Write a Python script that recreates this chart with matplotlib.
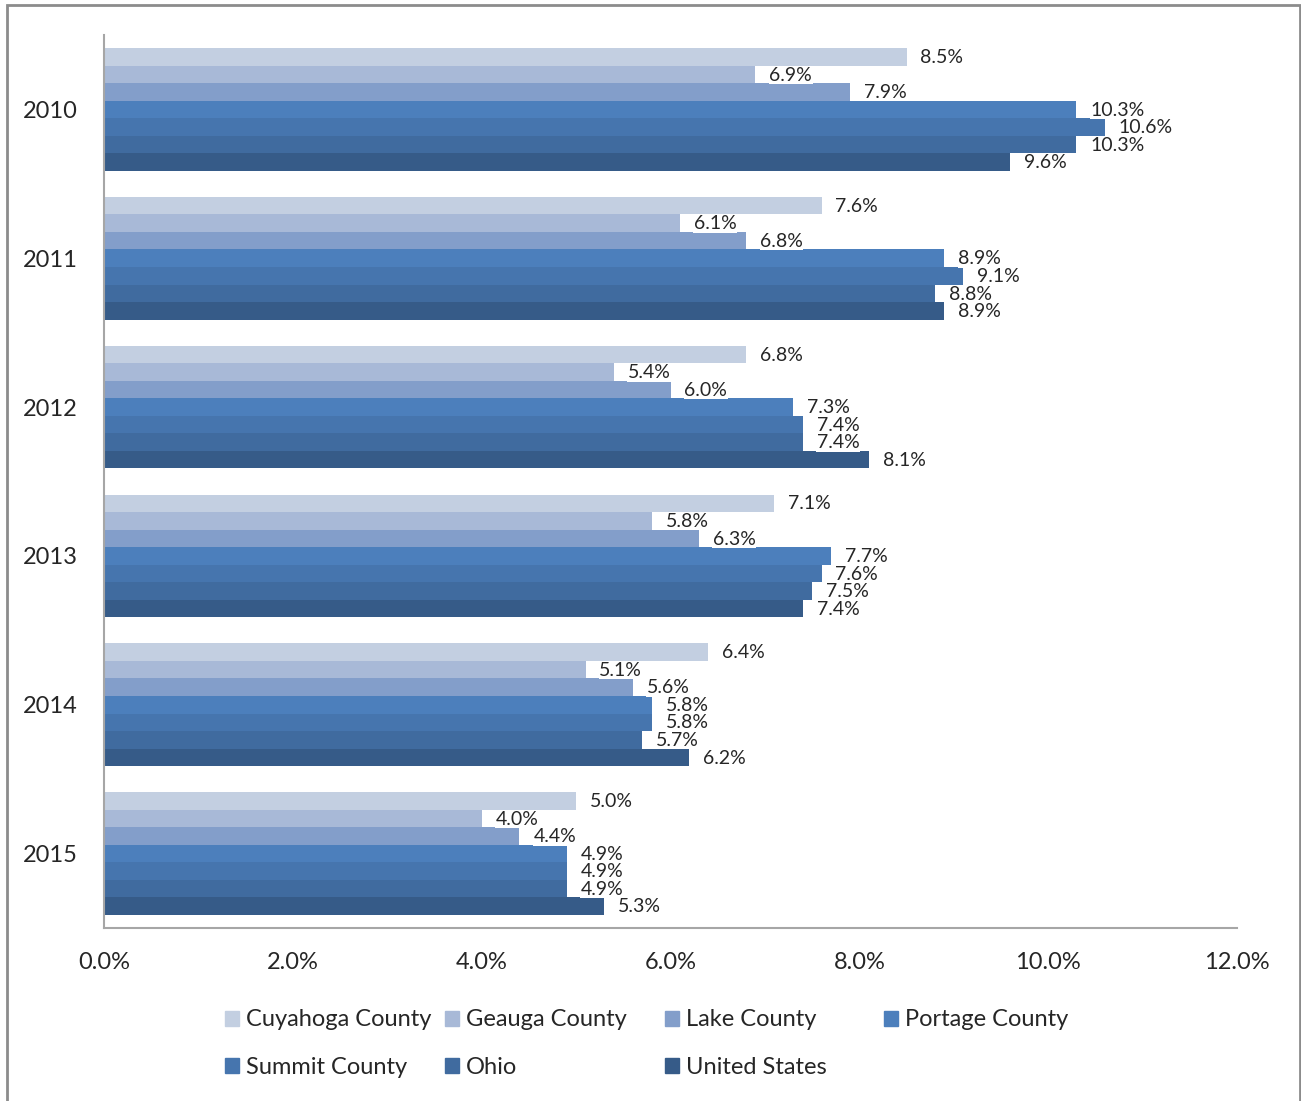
import matplotlib
matplotlib.use("Agg")
import matplotlib.pyplot as plt
import numpy as np
from matplotlib.patches import Patch, Rectangle

plt.rcParams['font.family'] = ['Lato', 'DejaVu Sans']

years = ["2010", "2011", "2012", "2013", "2014", "2015"]
series = ["Cuyahoga County", "Geauga County", "Lake County", "Portage County",
          "Summit County", "Ohio", "United States"]
cuyahoga = [8.5, 7.6, 6.8, 7.1, 6.4, 5.0]
geauga = [6.9, 6.1, 5.4, 5.8, 5.1, 4.0]
lake = [7.9, 6.8, 6.0, 6.3, 5.6, 4.4]
portage = [10.3, 8.9, 7.3, 7.7, 5.8, 4.9]
summit = [10.6, 9.1, 7.4, 7.6, 5.8, 4.9]
ohio = [10.3, 8.8, 7.4, 7.5, 5.7, 4.9]
us = [9.6, 8.9, 8.1, 7.4, 6.2, 5.3]
values = [cuyahoga, geauga, lake, portage, summit, ohio, us]
colors = ["#C3CFE1", "#A8B9D7", "#839ECA", "#4C7FBC", "#4675AE", "#406B9F", "#365B88"]

W, H = 1301, 1101
fig = plt.figure(figsize=(W / 100, H / 100), dpi=100)
ax = fig.add_axes([104 / W, 1 - 928 / H, (1237 - 104) / W, (928 - 35) / H])

# outer chart frame (bottom edge runs off the image)
fig.add_artist(Rectangle((7 / W, -0.01), (1300 - 7) / W, 1 - 5 / H + 0.01,
                         transform=fig.transFigure, fill=False,
                         edgecolor="#8C8C8C", linewidth=2))

y = np.arange(len(years))
h = 0.825 / len(series)
for k, (name, vals, col) in enumerate(zip(series, values, colors)):
    pos = y - 0.4125 + h * (k + 0.5)
    bars = ax.barh(pos, vals, height=h, color=col, label=name)
    for b, v in zip(bars, vals):
        ax.annotate(f"{v:.1f}%", (b.get_width(), b.get_y() + b.get_height() / 2),
                    xytext=(10, -0.5), textcoords="offset points",
                    ha="left", va="center", fontsize=14, color="#262626",
                    bbox=dict(boxstyle="square,pad=0.02", fc="white", ec="none"))

ax.set_xlim(0, 12)
ax.set_ylim(len(years) - 0.5, -0.5)
ax.set_yticks(y)
ax.set_yticklabels(years)
ax.set_xticks(np.arange(0, 12.1, 2))
ax.set_xticklabels([f"{t:.1f}%" for t in np.arange(0, 12.1, 2)])
ax.tick_params(length=0, labelsize=17, colors="#262626")
ax.tick_params(axis="x", pad=17)
ax.tick_params(axis="y", pad=19)
for s in ["top", "right"]:
    ax.spines[s].set_visible(False)
for s in ["left", "bottom"]:
    ax.spines[s].set_color("#A6A6A6")
    ax.spines[s].set_linewidth(1.5)

# legend laid out on a fixed grid like the original
legend_x = [225, 445, 665, 884]
legend_y = [1020, 1067]
for k, (name, col) in enumerate(zip(series, colors)):
    row, c = divmod(k, 4)
    leg = fig.legend(handles=[Patch(color=col, label=name)],
                     loc="center left",
                     bbox_to_anchor=(legend_x[c] / W, 1 - legend_y[row] / H),
                     frameon=False, fontsize=17, handlelength=0.6,
                     handleheight=0.6, handletextpad=0.3, borderpad=0,
                     borderaxespad=0)
    for t in leg.get_texts():
        t.set_color("#262626")

fig.savefig("out.png", dpi=100)
